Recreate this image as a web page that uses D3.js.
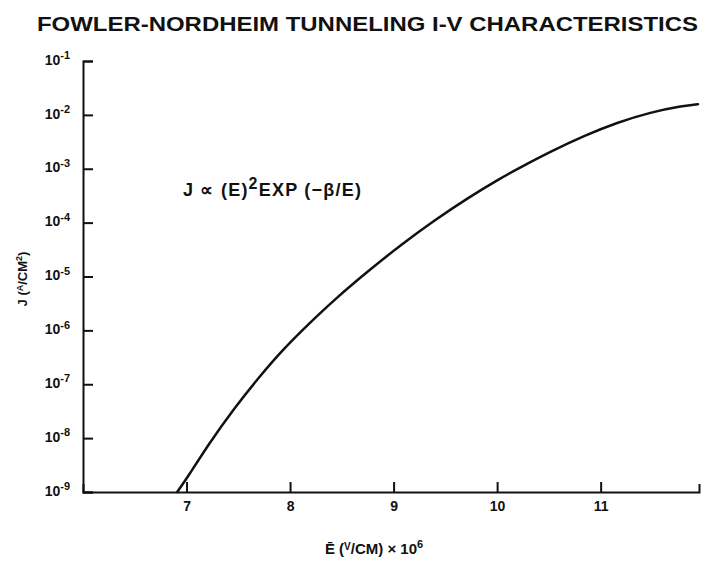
<!DOCTYPE html>
<html>
<head>
<meta charset="utf-8">
<script src="https://cdn.jsdelivr.net/npm/d3@7"></script>
<style>
  body { margin: 0; background: #fff; }
  svg { font-family: "Liberation Sans", Arial, sans-serif; }
</style>
</head>
<body>
<div id="chart"></div>
<script>
// field strength E (MV/cm) and current density J (A/cm^2)
const fieldE = [6.91, 7.02, 7.21, 7.47, 7.70, 7.92, 8.18, 8.44, 8.76, 9.08,
  9.40, 9.72, 10.04, 10.20, 10.52, 10.84, 11.16, 11.48, 11.80, 11.94];
const currentJ = [1.0e-9, 2.0e-9, 7.6e-9, 3.8e-8, 1.35e-7, 4.2e-7, 1.32e-6, 3.9e-6, 1.29e-5, 4.0e-5,
  1.12e-4, 2.9e-4, 6.8e-4, 1.0e-3, 2.1e-3, 4.1e-3, 7.2e-3, 1.12e-2, 1.48e-2, 1.58e-2];
const xTicks = [7, 8, 9, 10, 11];
const yExponents = [-1, -2, -3, -4, -5, -6, -7, -8, -9];

const width = 709, height = 569;
const svg = d3.select('#chart').append('svg')
  .attr('width', width)
  .attr('height', height);

const x = d3.scaleLinear().domain([6, 11.95]).range([83, 699]);
const y = d3.scaleLog().domain([1e-9, 1e-1]).range([492, 61]);

// title
svg.append('text')
  .attr('x', 37)
  .attr('y', 31)
  .attr('font-size', 20)
  .attr('font-weight', 'bold')
  .attr('fill', '#111')
  .attr('textLength', 661)
  .attr('lengthAdjust', 'spacingAndGlyphs')
  .text('FOWLER-NORDHEIM TUNNELING I-V CHARACTERISTICS');

function styleAxis(g) {
  g.selectAll('path, line')
    .attr('stroke', '#111')
    .attr('stroke-width', 2);
  g.selectAll('text')
    .attr('font-family', '"Liberation Sans", Arial, sans-serif')
    .attr('font-weight', 'bold')
    .attr('fill', '#111');
}

// x axis, ticks pointing up
const xAxis = d3.axisBottom(x)
  .tickValues(xTicks)
  .tickFormat(d3.format('d'))
  .tickSize(-10)
  .tickSizeOuter(-8)
  .tickPadding(9);

const gx = svg.append('g')
  .attr('transform', 'translate(0,' + y(1e-9) + ')')
  .call(xAxis)
  .call(styleAxis);
gx.selectAll('.tick text').attr('font-size', 14);

// y axis, ticks pointing right, labels as powers of ten
const yAxis = d3.axisLeft(y)
  .tickValues(yExponents.map(e => Math.pow(10, e)))
  .tickFormat(() => '')
  .tickSize(-10)
  .tickSizeOuter(-10)
  .tickPadding(13);

const gy = svg.append('g')
  .attr('transform', 'translate(' + x(6) + ',0)')
  .call(yAxis)
  .call(styleAxis);
gy.selectAll('.tick text')
  .each(function (d) {
    const t = d3.select(this);
    t.append('tspan').attr('font-size', 14).text('10');
    t.append('tspan').attr('font-size', 11).attr('dy', '-0.5em')
      .text('-' + Math.round(-Math.log10(d)));
  });

// curve
const line = d3.line()
  .x((d, i) => x(fieldE[i]))
  .y(d => y(d))
  .curve(d3.curveBasis);

svg.append('path')
  .datum(currentJ)
  .attr('fill', 'none')
  .attr('stroke', '#111')
  .attr('stroke-width', 2.5)
  .attr('stroke-linecap', 'round')
  .attr('d', line);

// formula annotation
const formula = svg.append('text')
  .attr('x', 183)
  .attr('y', 196)
  .attr('font-size', 18)
  .attr('font-weight', 'bold')
  .attr('fill', '#111')
  .attr('textLength', 178)
  .attr('lengthAdjust', 'spacing');
formula.append('tspan').text('J \u221D (E)');
formula.append('tspan').attr('font-size', 16).attr('dy', -7).text('2');
formula.append('tspan').attr('dy', 7).text('EXP (\u2212\u03B2/E)');

// x axis title
const xt = svg.append('text')
  .attr('x', 374)
  .attr('y', 554)
  .attr('text-anchor', 'middle')
  .attr('font-size', 15)
  .attr('font-weight', 'bold')
  .attr('fill', '#111');
xt.append('tspan').text('\u0112 (');
xt.append('tspan').attr('font-size', 10).attr('dy', -4).text('V');
xt.append('tspan').attr('dy', 4).text('/CM) \u00D7 10');
xt.append('tspan').attr('font-size', 11).attr('dy', -6).text('6');

// y axis title
const yt = svg.append('text')
  .attr('transform', 'translate(27,279) rotate(-90)')
  .attr('text-anchor', 'middle')
  .attr('font-size', 13)
  .attr('font-weight', 'bold')
  .attr('fill', '#111');
yt.append('tspan').text('J (');
yt.append('tspan').attr('font-size', 9).attr('dy', -4).text('A');
yt.append('tspan').attr('dy', 4).text('/CM');
yt.append('tspan').attr('font-size', 9).attr('dy', -5).text('2');
yt.append('tspan').attr('dy', 5).text(')');
</script>
</body>
</html>
